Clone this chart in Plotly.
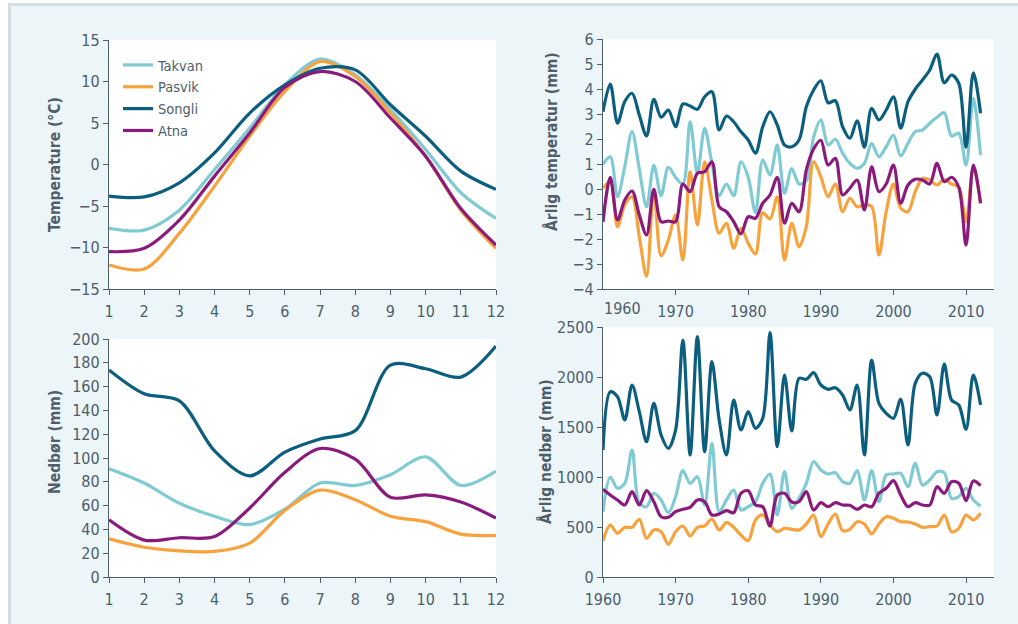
import plotly.graph_objects as go

# ---------------- data ----------------
months = list(range(1, 13))
series_names = ["Takvan", "Pasvik", "Songli", "Atna"]
colors = {"Takvan": "#80cbd3", "Pasvik": "#f8a23d", "Songli": "#0b5e7e", "Atna": "#8a1a7c"}

temp_month = {
    "Takvan": [-7.7, -7.9, -5.5, -0.6, 4.4, 9.6, 12.7, 10.8, 6.6, 1.8, -3.4, -6.5],
    "Pasvik": [-12.1, -12.6, -8.3, -2.6, 3.4, 8.8, 12.4, 10.6, 6.2, 1.0, -5.5, -10.1],
    "Songli": [-3.8, -3.9, -2.2, 1.4, 6.2, 9.6, 11.6, 11.4, 7.2, 3.4, -0.8, -3.0],
    "Atna":   [-10.5, -10.1, -6.7, -1.4, 3.8, 9.3, 11.2, 10.0, 5.6, 1.0, -5.3, -9.7],
}

prec_month = {
    "Takvan": [91, 79, 62, 51, 44, 57, 79, 77, 86, 101, 77, 89],
    "Pasvik": [32, 25, 22, 21.5, 28.5, 56, 73, 65, 51, 46.5, 36, 35],
    "Songli": [174, 154, 148, 106, 85, 105, 116, 123, 178, 175, 168, 194],
    "Atna":   [48, 31, 33, 34, 58, 88, 108, 99, 67, 69, 63, 49.5],
}

years = list(range(1960, 2013))

temp_year = {
    "Songli": [3.09, 4.2, 2.63, 3.5, 3.83, 2.96, 2.12, 3.59, 2.87, 3.16,
               2.49, 3.4, 3.32, 3.19, 3.69, 3.89, 2.36, 2.92, 2.69, 2.29,
               1.96, 1.43, 2.49, 3.09, 2.56, 1.76, 1.69, 1.96, 3.29, 3.96,
               4.33, 3.45, 3.53, 2.49, 2.03, 2.73, 1.67, 3.23, 2.76, 3.16,
               3.69, 2.43, 3.49, 3.99, 4.36, 4.76, 5.4, 4.25, 4.56, 4.23,
               1.67, 4.65, 3.03],
    "Takvan": [0.99, 1.29, -0.31, 0.9, 2.3, 0.8, -0.71, 0.95, -0.27, 0.87,
               0.47, 0.2, 2.69, 0.63, 2.43, 1.03, -0.27, 0.2, -0.27, 1.09,
               0.47, -0.95, 1.16, 0.56, 1.76, -0.17, 0.82, 0.2, 0.33, 2.07,
               2.76, 1.76, 1.99, 1.43, 1.03, 0.83, 1.03, 1.83, 1.29, 1.69,
               2.16, 1.32, 1.83, 2.29, 2.36, 2.63, 2.87, 3.05, 2.12, 2.23,
               0.96, 3.63, 1.36],
    "Atna":   [-1.31, 0.47, -1.24, -0.44, -0.08, -1.04, -1.84, -0.01, -1.31, -1.28,
               -1.31, 0.2, -0.11, 0.63, 0.69, 1.09, -0.71, -0.91, -1.31, -1.8,
               -1.11, -1.17, -0.57, -0.24, 0.47, -1.37, -0.57, -0.91, 0.76, 1.6,
               1.95, 0.96, 1.23, -0.24, 0.03, 0.36, -0.84, 0.89, -0.11, 0.2,
               0.96, -0.57, 0.16, 0.39, 0.36, 0.2, 1.03, 0.29, 0.47, 0.07,
               -2.24, 0.96, -0.57],
    "Pasvik": [0.03, 0.29, -1.51, -0.64, -0.31, -1.91, -3.49, -0.03, -2.67, -2.04,
               -1.04, -2.84, 0.69, -1.44, 1.09, -0.44, -1.77, -1.37, -2.37, -1.57,
               -2.17, -2.6, -0.95, -1.2, -0.31, -2.84, -1.37, -2.31, -1.51, 1.09,
               0.49, -0.31, 0.2, -0.91, -0.37, -0.71, -0.64, -0.7, -2.64, -0.91,
               0.2, -0.77, -0.91, -0.11, 0.43, 0.36, 0.16, 0.39, 0.2, 0.07,
               -1.31, 0.89, -0.57],
}

prec_year = {
    "Songli": [1270, 1853, 1803, 1570, 1920, 1653, 1353, 1737, 1420, 1287,
               1470, 2370, 1220, 2403, 1253, 2153, 1570, 1220, 1770, 1470,
               1653, 1487, 1587, 2443, 1303, 2020, 1460, 1987, 1977, 2043,
               1920, 1877, 1893, 1820, 1670, 1920, 1220, 2170, 1737, 1637,
               1587, 1777, 1320, 1937, 2037, 2003, 1620, 2130, 1770, 1720,
               1477, 2020, 1720],
    "Takvan": [653, 997, 887, 937, 1270, 737, 703, 837, 770, 643,
               803, 1063, 937, 1003, 720, 1337, 653, 770, 870, 670,
               703, 753, 937, 1030, 620, 1053, 687, 787, 937, 1153,
               1070, 1030, 1043, 953, 937, 1063, 770, 1063, 753, 1020,
               1030, 1037, 903, 1137, 920, 970, 1053, 1043, 787, 803,
               887, 770, 710],
    "Atna":   [877, 820, 770, 720, 853, 720, 863, 753, 603, 597,
               653, 677, 697, 770, 753, 620, 630, 663, 643, 837,
               863, 720, 703, 510, 820, 837, 750, 753, 853, 670,
               743, 703, 743, 720, 717, 677, 720, 703, 837, 887,
               963, 820, 703, 743, 720, 720, 903, 837, 953, 937,
               763, 960, 913],
    "Pasvik": [363, 520, 437, 497, 497, 577, 387, 470, 453, 327,
               453, 510, 410, 497, 510, 580, 470, 543, 497, 420,
               363, 570, 620, 520, 453, 487, 477, 470, 530, 620,
               403, 530, 630, 463, 477, 553, 530, 430, 530, 603,
               587, 553, 550, 530, 497, 503, 510, 620, 453, 487,
               620, 570, 637],
}

temp_month_ticks = [-15, -10, -5, 0, 5, 10, 15]
prec_month_ticks = list(range(0, 201, 20))
temp_year_ticks = list(range(-4, 7))
prec_year_ticks = list(range(0, 2501, 500))
year_ticks_top = [1970, 1980, 1990, 2000, 2010]
year_ticks_bottom = [1960, 1970, 1980, 1990, 2000, 2010]

# ---------------- figure ----------------
W, H = 1018, 624
FONT = "DejaVu Sans Condensed, Liberation Sans Narrow, DejaVu Sans, sans-serif"
TXT = "#4e5e6b"
AX = "#4e5e6b"

def px_x(p):
    return p / W

def px_y(p):
    return 1 - p / H

fig = go.Figure()

panels = [
    ("x", "y", months, temp_month, True),
    ("x2", "y2", years, temp_year, False),
    ("x3", "y3", months, prec_month, False),
    ("x4", "y4", years, prec_year, False),
]
for xa, ya, xs, data, show in panels:
    for name in series_names:
        fig.add_trace(go.Scatter(
            x=xs, y=data[name], mode="lines", name=name,
            line=dict(color=colors[name], width=3.2, shape="spline", smoothing=0.9),
            xaxis=xa, yaxis=ya, showlegend=show, hoverinfo="skip",
        ))

axis_common = dict(
    showline=True, linecolor=AX, linewidth=1.3, ticks="outside", ticklen=5,
    tickcolor=AX, tickwidth=1.3, showgrid=False, zeroline=False, automargin=False,
    tickfont=dict(family=FONT, size=16, color=TXT), fixedrange=True,
)
xaxis_extra = dict(ticklabelstandoff=3)

left_dom = [px_x(109), px_x(496)]
right_dom = [px_x(603), px_x(994)]

fig.update_layout(
    xaxis=dict(domain=left_dom, range=[1, 12], tickvals=months, anchor="y",
               **axis_common, **xaxis_extra),
    yaxis=dict(domain=[px_y(289), px_y(40)], range=[-15, 15], tickvals=temp_month_ticks,
               anchor="x", **axis_common),
    xaxis2=dict(domain=right_dom, range=[1960, 2013.85], tickvals=year_ticks_top,
                anchor="y2", **axis_common, **xaxis_extra),
    yaxis2=dict(domain=[px_y(289), px_y(39)], range=[-4, 6], tickvals=temp_year_ticks,
                anchor="x2", **axis_common),
    xaxis3=dict(domain=left_dom, range=[1, 12], tickvals=months, anchor="y3",
                **axis_common, **xaxis_extra),
    yaxis3=dict(domain=[px_y(577), px_y(339)], range=[0, 200], tickvals=prec_month_ticks,
                anchor="x3", **axis_common),
    xaxis4=dict(domain=right_dom, range=[1960, 2013.85], tickvals=year_ticks_bottom,
                anchor="y4", **axis_common, **xaxis_extra),
    yaxis4=dict(domain=[px_y(577), px_y(327)], range=[0, 2500], tickvals=prec_year_ticks,
                anchor="x4", **axis_common),
)

annotations = [
    dict(text="Temperature (°C)", x=px_x(55), y=px_y(165)),
    dict(text="Årlig temperatur (mm)", x=px_x(552), y=px_y(142)),
    dict(text="Nedbør (mm)", x=px_x(55), y=px_y(442)),
    dict(text="Årlig nedbør (mm)", x=px_x(545), y=px_y(452)),
]
for a in annotations:
    fig.add_annotation(
        text="<b>" + a["text"] + "</b>", x=a["x"], y=a["y"], xref="paper", yref="paper",
        textangle=-90, showarrow=False, xanchor="center", yanchor="middle",
        font=dict(family=FONT, size=15.5, color=TXT),
    )
# first year label of the upper right panel sits shifted right of the axis
fig.add_annotation(text="1960", x=px_x(622), y=px_y(308), xref="paper", yref="paper",
                   showarrow=False, xanchor="center", yanchor="middle",
                   font=dict(family=FONT, size=16, color=TXT))

shapes = [
    dict(type="rect", xref="paper", yref="paper", x0=0, x1=px_x(8), y0=0, y1=1,
         fillcolor="white", line=dict(width=0), layer="below"),
    dict(type="rect", xref="paper", yref="paper", x0=0, x1=1, y0=px_y(3), y1=1,
         fillcolor="white", line=dict(width=0), layer="below"),
    dict(type="line", xref="paper", yref="paper", x0=px_x(9.5), x1=px_x(9.5), y0=0, y1=px_y(3),
         line=dict(color="#d4dde2", width=3), layer="below"),
    dict(type="line", xref="paper", yref="paper", x0=px_x(8), x1=1, y0=px_y(4.5), y1=px_y(4.5),
         line=dict(color="#d4dde2", width=3), layer="below"),
]

fig.update_layout(
    width=W, height=H,
    margin=dict(l=0, r=0, t=0, b=0),
    paper_bgcolor="#ecf5f7",
    plot_bgcolor="white",
    shapes=shapes,
    showlegend=True,
    legend=dict(
        x=px_x(118), y=px_y(49), xanchor="left", yanchor="top",
        bgcolor="rgba(0,0,0,0)", borderwidth=0,
        font=dict(family=FONT, size=14.5, color=TXT),
        tracegroupgap=0, itemwidth=30,
    ),
    font=dict(family=FONT, color=TXT),
)

fig.write_html("out.html")
